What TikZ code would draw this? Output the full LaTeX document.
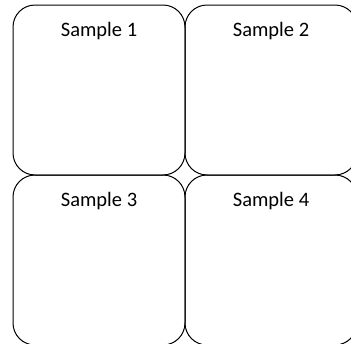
\documentclass[tikz,border=0pt]{standalone}
\usepackage{fontspec}
\setmainfont{Carlito}
\begin{document}
\begin{tikzpicture}[x=1pt,y=-1pt,
  samplebox/.style={draw=black,line width=1pt,rounded corners=22pt},
  samplelabel/.style={anchor=base,inner sep=0pt,font=\fontsize{20.5}{24}\selectfont}]
\useasboundingbox (0,0) rectangle (351,343);
\clip (0,0) rectangle (351,343);
\draw[samplebox] (13,5) rectangle (185,175);
\draw[samplebox] (185,5) rectangle (357,175);
\draw[samplebox] (13,175) rectangle (185,345);
\draw[samplebox] (185,175) rectangle (357,345);
\node[samplelabel] (s1) at (99,36) {Sample 1};
\node[samplelabel] (s2) at (271,36) {Sample 2};
\node[samplelabel] (s3) at (99,206) {Sample 3};
\node[samplelabel] (s4) at (271,206) {Sample 4};
\end{tikzpicture}
\end{document}
